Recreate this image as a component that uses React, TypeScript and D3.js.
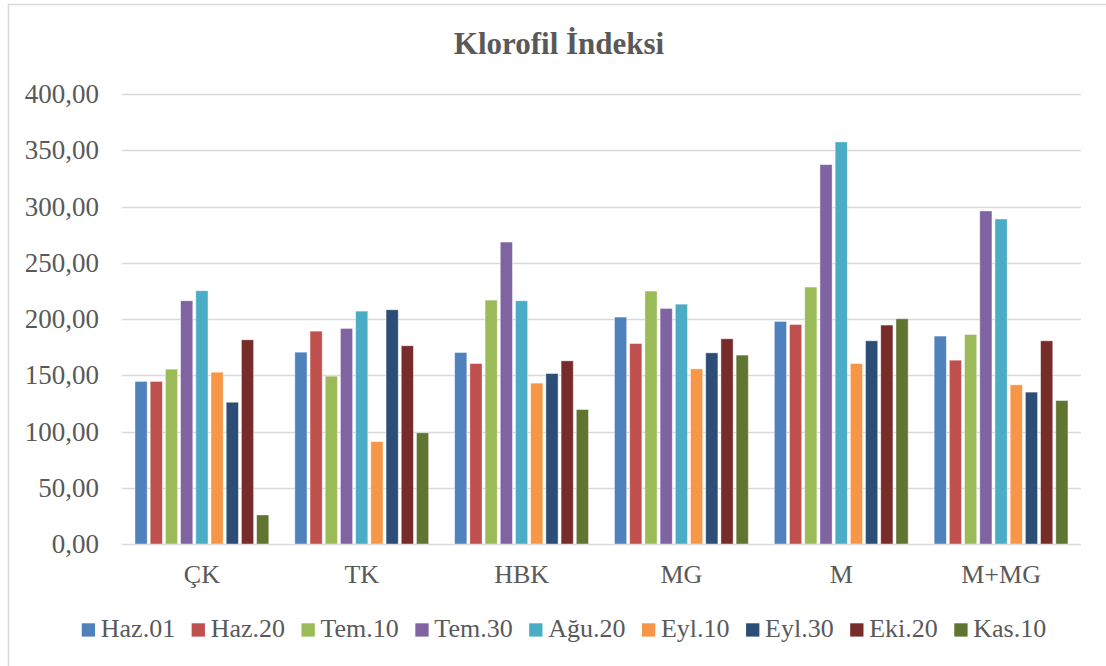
import React, { useEffect, useRef } from "react";
import * as d3 from "d3";

const CATEGORIES = ["ÇK", "TK", "HBK", "MG", "M", "M+MG"];
const SERIES = ["Haz.01", "Haz.20", "Tem.10", "Tem.30", "Ağu.20", "Eyl.10", "Eyl.30", "Eki.20", "Kas.10"];
const COLORS = ["#4F81BD", "#C0504D", "#9BBB59", "#8064A2", "#4BACC6", "#F79646", "#2C4D75", "#772C2A", "#5F7530"];

// one array per series, values in category order
const HAZ01 = [144.5, 170.5, 170.2, 201.7, 197.8, 184.8];
const HAZ20 = [144.5, 189.2, 160.4, 178.2, 195.1, 163.4];
const TEM10 = [155.4, 149.2, 216.8, 224.8, 228.4, 186.2];
const TEM30 = [216.2, 191.6, 268.4, 209.4, 337.2, 296.0];
const AGU20 = [225.1, 207.0, 216.2, 213.2, 357.4, 288.9];
const EYL10 = [152.7, 91.0, 143.0, 155.7, 160.4, 141.5];
const EYL30 = [126.0, 208.2, 151.5, 169.9, 180.6, 135.0];
const EKI20 = [181.5, 176.2, 162.8, 182.4, 194.6, 180.6];
const KAS10 = [25.8, 98.8, 119.5, 167.9, 200.2, 127.5];
const VALUES = [HAZ01, HAZ20, TEM10, TEM30, AGU20, EYL10, EYL30, EKI20, KAS10];

const Y_TICKS = [0, 50, 100, 150, 200, 250, 300, 350, 400];
const TITLE = "Klorofil İndeksi";

export default function App() {
  const svgRef = useRef<SVGSVGElement>(null);

  useEffect(() => {
    const width = 1106;
    const height = 666;
    const font = "'Liberation Serif', 'Times New Roman', serif";
    const textColor = "#595959";
    const gridColor = "#d9d9d9";

    const svg = d3.select(svgRef.current);
    svg.selectAll("*").remove();
    svg.attr("width", width).attr("height", height);

    svg.append("rect").attr("width", width).attr("height", height).attr("fill", "#fff");

    // chart frame (right/bottom edges fall outside the picture)
    svg.append("rect")
      .attr("x", 8.5).attr("y", 4.5)
      .attr("width", 1200).attr("height", 800)
      .attr("fill", "none").attr("stroke", gridColor).attr("stroke-width", 1.5);

    const x0 = d3.scaleBand().domain(CATEGORIES).range([122, 1081]);
    const x1 = d3.scaleBand().domain(SERIES).range([13, 146.8]).paddingInner(0.2);
    const y = d3.scaleLinear().domain([0, 400]).range([544, 94]);

    // Grid
    svg.append("g").selectAll("line")
      .data(Y_TICKS)
      .join("line")
      .attr("x1", 122).attr("x2", 1081)
      .attr("y1", d => Math.round(y(d)) + 0.5).attr("y2", d => Math.round(y(d)) + 0.5)
      .attr("stroke", gridColor).attr("stroke-width", 1.3);

    // Y labels
    svg.append("g").selectAll("text")
      .data(Y_TICKS)
      .join("text")
      .attr("x", 99).attr("y", d => y(d) + 9)
      .attr("text-anchor", "end")
      .attr("fill", textColor)
      .style("font-family", font).style("font-size", "27px")
      .text(d => d3.format(".2f")(d).replace(".", ","));

    // Bars
    const groups = svg.append("g").selectAll("g")
      .data(CATEGORIES)
      .join("g")
      .attr("transform", d => `translate(${x0(d)},0)`);

    groups.selectAll("rect")
      .data((c, ci) => SERIES.map((s, si) => ({ s, si, v: VALUES[si][ci] })))
      .join("rect")
      .attr("x", d => x1(d.s)!)
      .attr("width", x1.bandwidth())
      .attr("y", d => y(d.v))
      .attr("height", d => y(0) - y(d.v))
      .attr("fill", d => COLORS[d.si])
      .attr("stroke", "#ffffff").attr("stroke-opacity", 0.5).attr("stroke-width", 0.8);

    // Category labels
    svg.append("g").selectAll("text")
      .data(CATEGORIES)
      .join("text")
      .attr("x", d => x0(d)! + x0.bandwidth() / 2)
      .attr("y", 583)
      .attr("text-anchor", "middle")
      .attr("fill", textColor)
      .style("font-family", font).style("font-size", "26px")
      .text(d => d);

    // Title
    svg.append("text")
      .attr("x", 559).attr("y", 54)
      .attr("text-anchor", "middle")
      .attr("fill", textColor)
      .style("font-family", font).style("font-size", "31px").style("font-weight", 700)
      .text(TITLE);

    // Legend, laid out from measured text widths and centered
    const legend = svg.append("g");
    const items = legend.selectAll("g")
      .data(SERIES)
      .join("g");
    items.append("rect")
      .attr("width", 13.3).attr("height", 13.3)
      .attr("y", -13.7)
      .attr("fill", (d, i) => COLORS[i]);
    items.append("text")
      .attr("x", 19)
      .attr("fill", textColor)
      .style("font-family", font).style("font-size", "26px")
      .text(d => d);

    const gap = 16.5;
    let cursor = 0;
    const offsets: number[] = [];
    items.each(function () {
      offsets.push(cursor);
      const w = (d3.select(this).select("text").node() as SVGTextElement).getComputedTextLength();
      cursor += 19 + w + gap;
    });
    const total = cursor - gap;
    const startX = 564 - total / 2;
    items.attr("transform", (d, i) => `translate(${startX + offsets[i]},637)`);
  }, []);

  return (
    <div style={{ position: "absolute", left: 0, top: 0 }}>
      <svg ref={svgRef} style={{ display: "block" }} />
    </div>
  );
}
